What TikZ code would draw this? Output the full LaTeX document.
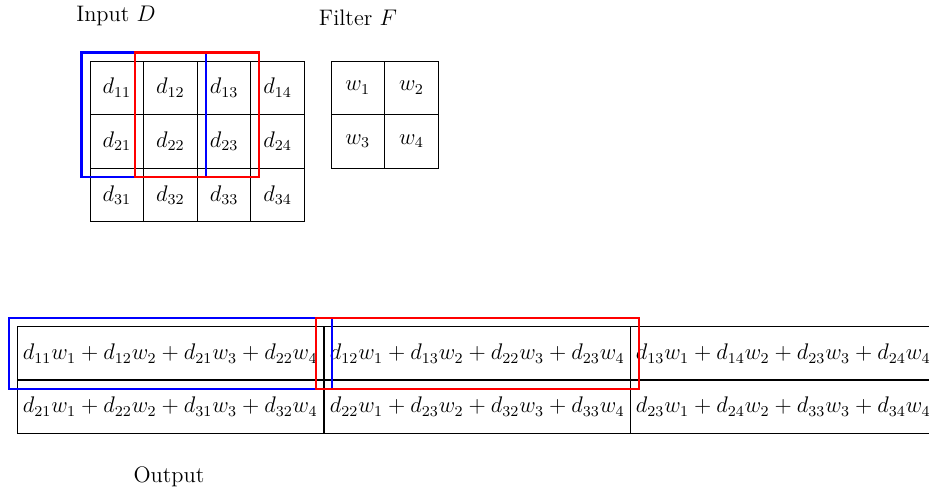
\documentclass[tikz,border=0pt]{standalone}
\usetikzlibrary{fit}
\begin{document}
\begin{tikzpicture}[x=0.018657cm, y=-0.018657cm,
  every node/.style={font=\fontsize{11.9pt}{14.3pt}\selectfont},
  cell/.style={draw, minimum width=1cm, minimum height=1cm, inner sep=0pt, line width=0.5pt},
  outcell/.style={draw, minimum width=5.71cm, minimum height=1cm, inner sep=0pt, line width=0.5pt},
  bluebox/.style={draw=blue, line width=1.2pt, inner sep=0.149cm},
  redbox/.style={draw=red, line width=1.2pt, inner sep=0.149cm},
  lbl/.style={inner sep=0pt}]
\useasboundingbox (0,0) rectangle (929,490);
% labels
\node[lbl] (inlbl) at (116,16) {Input $D$};
\node[lbl] (filtlbl) at (358,18) {Filter $F$};
\node[lbl] (outlbl) at (169,477) {Output};
% input grid
\foreach \r/\y in {1/87.8, 2/141.4, 3/195} {
  \foreach \c/\x in {1/116.8, 2/170.4, 3/224, 4/277.6} {
    \node[cell] (d\r\c) at (\x,\y) {$d_{\r\c}$};
  }
}
% filter
\node[cell] (w1) at (357.8,87.8) {$w_1$};
\node[cell] (w2) at (411.4,87.8) {$w_2$};
\node[cell] (w3) at (357.8,141.4) {$w_3$};
\node[cell] (w4) at (411.4,141.4) {$w_4$};
% output
\node[outcell] (o11) at (170.2,353.5) {$d_{11}w_1+d_{12}w_2+d_{21}w_3+d_{22}w_4$};
\node[outcell] (o12) at (477.2,353.5) {$d_{12}w_1+d_{13}w_2+d_{22}w_3+d_{23}w_4$};
\node[outcell] (o13) at (783.2,353.5) {$d_{13}w_1+d_{14}w_2+d_{23}w_3+d_{24}w_4$};
\node[outcell] (o21) at (170.2,406.5) {$d_{21}w_1+d_{22}w_2+d_{31}w_3+d_{32}w_4$};
\node[outcell] (o22) at (477.2,406.5) {$d_{22}w_1+d_{23}w_2+d_{32}w_3+d_{33}w_4$};
\node[outcell] (o23) at (783.2,406.5) {$d_{23}w_1+d_{24}w_2+d_{33}w_3+d_{34}w_4$};
% highlight boxes
\node[bluebox, fit=(d11)(d22)] (bin) {};
\node[redbox, fit=(d12)(d23)] (rin) {};
\node[bluebox, fit=(o11)] (bout) {};
\node[redbox, fit=(o12)] (rout) {};
\end{tikzpicture}
\end{document}
